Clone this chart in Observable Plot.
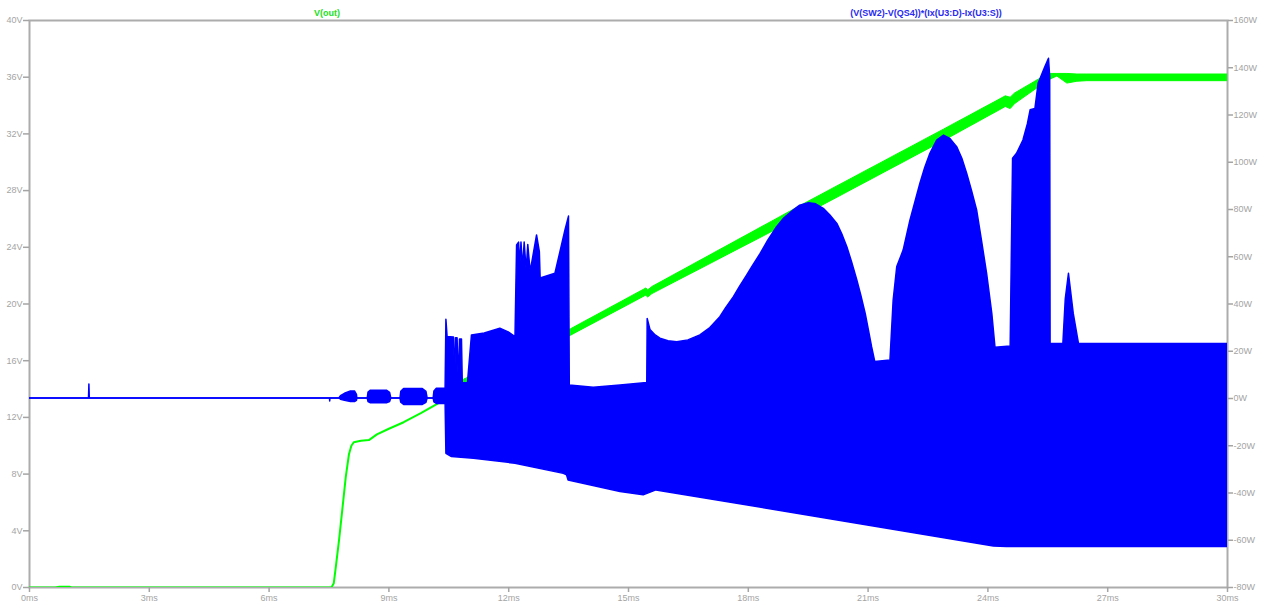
<!DOCTYPE html>
<html><head><meta charset="utf-8">
<script src="https://cdn.jsdelivr.net/npm/d3@7"></script>
<script src="https://cdn.jsdelivr.net/npm/@observablehq/plot@0.6"></script>
<style>
body{margin:0;background:#fff;}
#wrap{position:relative;width:1265px;height:606px;overflow:hidden;}
.ttl{position:absolute;top:8px;font:bold 9px "Liberation Sans",Arial,sans-serif;transform:translateX(-50%);white-space:nowrap;line-height:11px;}
</style></head><body>
<div id="wrap">
  <span class="ttl" style="left:327px;color:#22e022">V(out)</span>
  <span class="ttl" style="left:926px;color:#2a2af0">(V(SW2)-V(QS4))*(Ix(U3:D)-Ix(U3:S))</span>
</div>
<script>
// ---- axis ticks ----
const timeTicks = [0,3,6,9,12,15,18,21,24,27,30];          // ms
const voltTicks = [0,4,8,12,16,20,24,28,32,36,40];         // V (left)
const wattTicks = [-80,-60,-40,-20,0,20,40,60,80,100,120,140,160]; // W (right)

// ---- V(out): thin trace (ms, V) ----
const voutLine = [[0,0],[0.65,0],[0.75,0.06],[1.0,0.06],[1.05,0],[7.56,0],[7.62,0.3],[7.66,1.2],[7.75,3.3],[7.83,5.4],[7.92,7.8],[8.0,9.4],[8.06,10.0],[8.12,10.25],[8.3,10.35],[8.5,10.4],[8.7,10.8],[9.0,11.2],[9.37,11.66],[9.8,12.3],[10.21,12.96],[10.5,13.5],[10.79,14.4],[10.9,14.5]];
// ---- V(out): ripple band (ms, low V, high V) ----
const voutBand = [[10.8,14.3,14.55],[13.55,17.75,18.2],[15.45,20.6,21.1],[15.49,20.45,20.95],[15.6,20.7,21.2],[19.5,26.4,27.2],[22.9,31.5,32.3],[24.45,33.9,34.65],[24.57,33.75,34.55],[24.68,34.1,34.85],[25.52,35.77,36.23],[25.74,36.05,36.23],[25.99,35.55,36.23],[26.24,35.68,36.19],[26.49,35.72,36.19],[30,35.72,36.19]];

// ---- power: upper envelope (ms, W) ----
const powerUpper = [[0,0],[1.49,0],[1.5,5.9],[1.51,0],[7.76,0],[7.8,1.0],[7.9,2.0],[8.05,3.0],[8.15,3.0],[8.2,1.5],[8.21,0],[8.47,0],[8.49,2.5],[8.55,3.3],[8.95,3.3],[9.03,2.4],[9.06,0],[9.29,0],[9.31,2.8],[9.38,4.0],[9.85,4.0],[9.94,2.8],[9.97,0],[10.12,0],[10.14,3.0],[10.2,4.1],[10.42,4.1],[10.44,33.3],[10.47,26],[10.63,25.8],[10.66,6.2],[10.68,25.5],[10.72,25.5],[10.75,6.2],[10.78,25],[10.83,25],[10.85,6.5],[10.98,6.5],[11.08,26.7],[11.4,27.5],[11.79,29.5],[12.0,28],[12.17,26],[12.21,64.8],[12.26,66],[12.29,56],[12.32,66],[12.36,55],[12.40,66],[12.45,54],[12.49,65],[12.55,53.5],[12.71,69],[12.78,62],[12.80,50.8],[13.17,52.8],[13.42,71],[13.51,77],[13.53,5.5],[14.13,4.5],[14.8,5.5],[15.47,6.6],[15.48,33.7],[15.55,29],[15.68,26.7],[15.8,25.3],[16.0,24.2],[16.22,23.8],[16.5,24.6],[16.80,26.7],[17.05,29.8],[17.30,34.4],[17.45,38.3],[17.64,42.9],[17.8,47.5],[17.97,52],[18.1,55.6],[18.31,61.2],[18.5,66.8],[18.72,72.5],[18.9,76.2],[19.14,79.6],[19.3,81.6],[19.52,82.7],[19.7,82.2],[19.89,80.3],[20.05,77.6],[20.23,73.9],[20.35,69.6],[20.48,64],[20.6,57.6],[20.73,50],[20.83,43.5],[20.94,35.8],[21.02,28.8],[21.10,21.7],[21.18,15.4],[21.56,16.1],[21.64,41.5],[21.73,55.6],[21.89,62.6],[22.06,75.3],[22.2,84],[22.31,90.9],[22.43,97.6],[22.56,103.6],[22.73,109.2],[22.90,111.3],[23.06,109.9],[23.23,106.4],[23.36,101.5],[23.48,95.1],[23.6,88],[23.73,79.6],[23.85,66.9],[23.98,52.8],[24.11,35.8],[24.19,21.5],[24.57,22],[24.63,101.5],[24.73,103.6],[24.89,109.2],[25.0,116],[25.07,122],[25.19,122.6],[25.27,133.2],[25.44,140.3],[25.53,143.8],[25.56,136],[25.57,23.1],[25.89,23.1],[25.95,42],[26.03,52.8],[26.15,35.8],[26.28,23.1],[30,23.1]];
// ---- power: lower envelope (ms, W) ----
const powerLower = [[0,0],[7.525,0],[7.53,-1.3],[7.535,0],[7.76,0],[7.8,-0.5],[7.9,-1.0],[8.05,-1.5],[8.15,-1.5],[8.2,-1.0],[8.21,0],[8.47,0],[8.49,-1.5],[8.55,-2.0],[8.95,-2.0],[9.03,-1.5],[9.06,0],[9.29,0],[9.31,-1.8],[9.38,-2.7],[9.85,-2.7],[9.94,-1.8],[9.97,0],[10.12,0],[10.14,-1.6],[10.2,-2.3],[10.42,-2.3],[10.44,-23.4],[10.58,-24.8],[11.13,-25.5],[12.17,-27.6],[13.38,-31.9],[13.46,-32.5],[13.50,-34.7],[14.80,-39.6],[15.38,-41.0],[15.70,-38.9],[24.15,-62.6],[24.48,-62.9],[30,-62.9]];

// right axis (W) shares the left axis span: -80..160 W  <->  0..40 V
const w2v = w => (w + 80) / 6;

const blue = "#0000ff", green = "#00ff00";

const chart = Plot.plot({
  width: 1265, height: 606,
  marginLeft: 29, marginRight: 38, marginTop: 20, marginBottom: 19,
  x: {domain: [0, 30]},
  y: {domain: [0, 40]},
  style: {fontFamily: "'Liberation Sans', Arial, sans-serif", fontSize: "9px", color: "#a4a4a4", background: "white", overflow: "visible"},
  marks: [
    Plot.frame({stroke: "#acacac", strokeWidth: 2}),
    Plot.axisX({ticks: timeTicks, tickFormat: d => d + "ms", tickSize: 5, tickPadding: 2, label: null, strokeWidth: 1.5}),
    Plot.axisY({ticks: voltTicks, tickFormat: d => d + "V", tickSize: 6, tickPadding: 1, label: null, strokeWidth: 1.5}),
    Plot.axisY({anchor: "right", ticks: wattTicks.map(w2v), tickFormat: v => Math.round(v * 6 - 80) + "W", tickSize: 5, tickPadding: 1, label: null, strokeWidth: 1.5}),
    Plot.line(voutLine, {x: d => d[0], y: d => d[1], stroke: green, strokeWidth: 2, clip: true}),
    Plot.areaY(voutBand, {x: d => d[0], y1: d => d[1], y2: d => d[2], fill: green, stroke: green, strokeWidth: 1, clip: true}),
    Plot.areaY(powerUpper, {x: d => d[0], y1: w2v(0), y2: d => w2v(d[1]), fill: blue, stroke: blue, strokeWidth: 1.5, clip: true}),
    Plot.areaY(powerLower, {x: d => d[0], y1: d => w2v(d[1]), y2: w2v(0), fill: blue, stroke: blue, strokeWidth: 1.5, clip: true})
  ]
});
document.getElementById("wrap").prepend(chart);
chart.style.position = "absolute";
chart.style.left = "0"; chart.style.top = "0";
</script>
</body></html>
